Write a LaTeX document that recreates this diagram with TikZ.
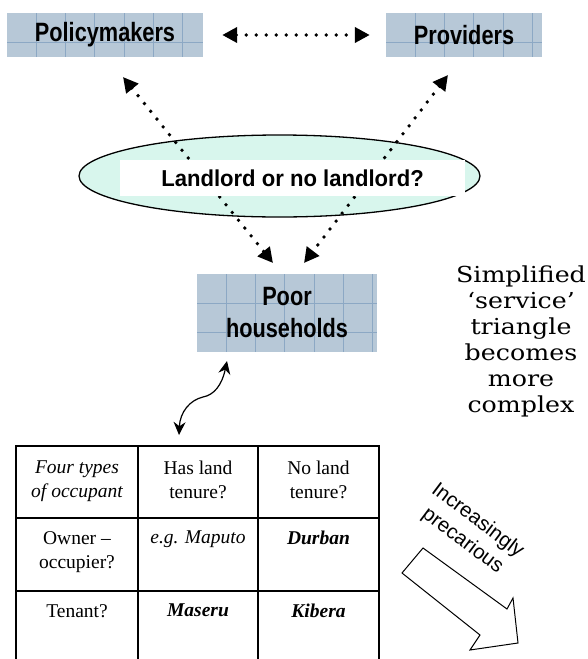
\documentclass[tikz,border=0pt]{standalone}
\usepackage{fontspec}
\setmainfont{Liberation Serif}
\newfontfamily\boxfont[FakeStretch=0.82]{Liberation Sans}
\newfontfamily\qfont[FakeStretch=0.96]{Liberation Sans}
\newfontfamily\notefont[FakeStretch=1.15]{DejaVu Serif}
\newfontfamily\tagfont{Liberation Sans}
\usetikzlibrary{shapes.geometric,arrows.meta}

\definecolor{boxblue}{RGB}{183,200,215}
\definecolor{gridblue}{RGB}{140,168,196}
\definecolor{mint}{RGB}{216,246,237}

\tikzset{
  gridline/.style={draw=gridblue, line width=0.55pt},
  gridded/.style={path picture={
      \foreach \k in {1,...,7}{
        \draw[gridline] ([xshift=\k*29.2pt]path picture bounding box.north west)
          -- ([xshift=\k*29.2pt]path picture bounding box.south west);}
      \foreach \k in {1,2}{
        \draw[gridline] ([yshift=-\k*29.2pt]path picture bounding box.north west)
          -- ([yshift=-\k*29.2pt]path picture bounding box.north east);}
    }},
  actor/.style={gridded, fill=boxblue, inner sep=0pt, align=center,
    font=\boxfont\bfseries\fontsize{26.5}{32}\selectfont},
  dotline/.style={line width=3.8pt, dash pattern=on 0pt off 10pt, line cap=round,
    {Triangle[length=15pt,width=15pt]}-{Triangle[length=15pt,width=15pt]}},
  curvy/.style={line width=1.2pt, {Stealth[length=13pt,width=12pt]}-{Stealth[length=13pt,width=12pt]}},
  cell/.style={anchor=north, inner sep=0pt, align=center,
    font=\rmfamily\fontsize{19.5}{24}\selectfont},
  celli/.style={cell, font=\rmfamily\fontsize{19.5}{24}\selectfont\itshape},
  cellbi/.style={cell, font=\rmfamily\fontsize{19.5}{24}\selectfont\bfseries\itshape},
  tableline/.style={line width=1.8pt}
}

\begin{document}
\begin{tikzpicture}[x=1pt,y=-1pt]
\useasboundingbox (0,0) rectangle (588,659);

% the three actors
\node[actor, minimum width=196pt, minimum height=44pt] (pm) at (105,35) {Policymakers};
\node[actor, minimum width=156pt, minimum height=44pt] (pv) at (464,35) {Providers};
\node[actor, minimum width=180pt, minimum height=78pt] (ph) at (287,313) {Poor\\households};

% central question
\node[ellipse, draw, line width=1.3pt, fill=mint, minimum width=401pt,
      minimum height=82pt, inner sep=0pt] (hub) at (279.5,176) {};

% arrow end points next to the boxes
\coordinate (pmIn) at (123,77);
\coordinate (pvIn) at (448,75);
\coordinate (phL) at (273,263);
\coordinate (phR) at (304,263);

\draw[dotline, shorten <=19pt, shorten >=16pt] (pm.east) -- (pv.west);
\draw[dotline] (pmIn) -- (phL);
\draw[dotline] (pvIn) -- (phR);

\node[fill=white, minimum width=345pt, minimum height=36pt, inner sep=0pt,
      font=\qfont\bfseries\fontsize{23}{28}\selectfont] (q) at (292.5,178)
      {Landlord or no landlord?};

% side note
\node[anchor=north, align=center, inner sep=0pt,
      font=\notefont\fontsize{22}{26}\selectfont] (note) at (521,266)
      {Simplified\\‘service’\\triangle\\becomes\\more\\complex};

% link from the households to the table
\coordinate (cTop) at (227,361);
\coordinate (cBot) at (179,435);
\draw[curvy] (cTop) .. controls (222,385) and (214,395) .. (203,397)
  .. controls (190,400) and (180,412) .. (cBot);

% occupant table
\draw[tableline] (16,446) -- (379,446);
\draw[tableline] (16,518) -- (379,518);
\draw[tableline] (16,591) -- (379,591);
\foreach \xx in {16,138,258,379}{
  \draw[tableline] (\xx,445.1) -- (\xx,659);
}
\node[celli] (c11) at (77,461) {Four types\\of occupant};
\node[cell] (c12) at (198,461) {Has land\\tenure?};
\node[cell] (c13) at (318.5,461) {No land\\tenure?};
\node[cell] (c21) at (77,531) {Owner –\\occupier?};
\node[celli] (c22) at (198,531) {e.g. Maputo};
\node[cellbi] (c23) at (318.5,531) {Durban};
\node[cell] (c31) at (77,604) {Tenant?};
\node[cellbi] (c32) at (198,604) {Maseru};
\node[cellbi] (c33) at (318.5,604) {Kibera};

% hollow trend arrow
\draw[line width=1pt, fill=white] (402,573) -- (423,548) -- (507,609) -- (513,598)
  -- (518,643) -- (470,650) -- (480,635) -- cycle;
\node[rotate=-37, align=center, inner sep=0pt,
      font=\tagfont\fontsize{20.5}{25}\selectfont] (tag) at (470,531)
      {Increasingly\\precarious};
\end{tikzpicture}
\end{document}
